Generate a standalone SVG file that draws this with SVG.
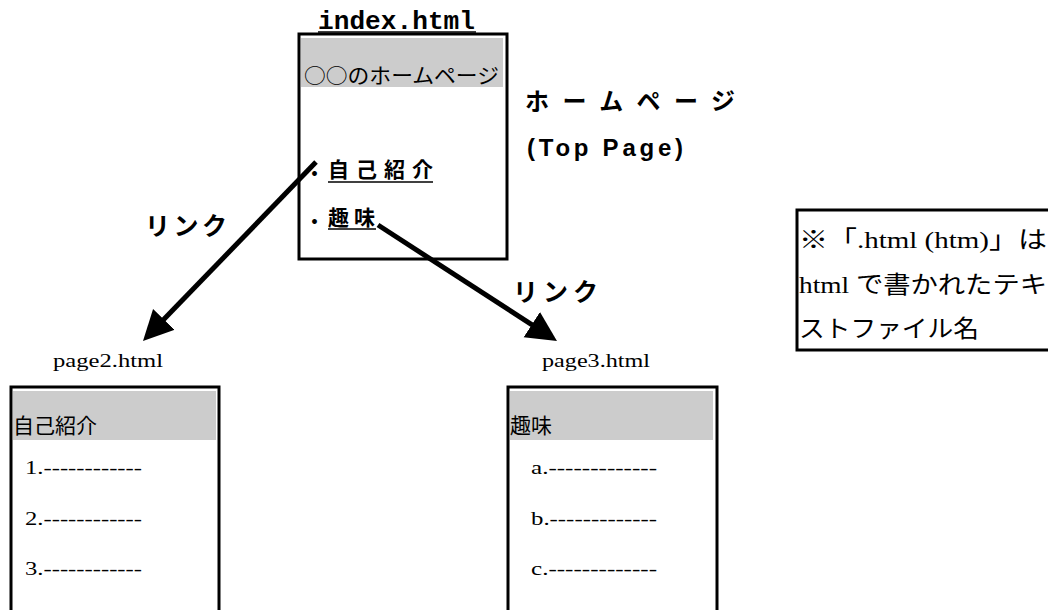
<svg xmlns="http://www.w3.org/2000/svg" width="1048" height="610" viewBox="0 0 1048 610">
<style>
.box{fill:#fff;stroke:#000;stroke-width:3}
.hdr{fill:#cccccc}
.jp{font-family:"Noto Sans CJK JP","Liberation Sans",sans-serif;fill:#000}
.jpb{font-family:"Noto Sans CJK JP","Liberation Sans",sans-serif;font-weight:700;fill:#000}
.serif{font-family:"Liberation Serif","Noto Sans CJK JP",serif;fill:#000}
.mono{font-family:"Liberation Mono",monospace;font-weight:700;fill:#000}
.ul{stroke:#000;stroke-width:1.5}
.conn{stroke:#000;stroke-width:5;fill:none}
</style>
<defs>
<marker id="ah" markerUnits="userSpaceOnUse" markerWidth="32" markerHeight="32" refX="10" refY="15" orient="auto">
<path d="M0,0 L30,15 L0,30 z" fill="#000"/>
</marker>
</defs>

<g id="index">
<text class="mono" x="318" y="29" font-size="26" textLength="157" lengthAdjust="spacingAndGlyphs">index.html</text>
<line class="ul" x1="318" y1="32" x2="476" y2="32"/>
<rect class="box" x="299" y="34" width="208" height="225"/>
<rect class="hdr" x="301" y="38" width="202" height="49"/>
<text class="jp" x="304" y="83" font-size="21" textLength="195" lengthAdjust="spacingAndGlyphs">○○のホームページ</text>
<text class="jpb" x="305" y="181" font-size="19">・</text>
<text class="jp" x="328" y="177" font-size="21" font-weight="600" textLength="105" lengthAdjust="spacing">自己紹介</text>
<line class="ul" x1="328" y1="182" x2="433" y2="182"/>
<text class="jpb" x="305" y="229" font-size="19">・</text>
<text class="jp" x="328" y="225" font-size="21" font-weight="600" textLength="47" lengthAdjust="spacing">趣味</text>
<line class="ul" x1="328" y1="229" x2="376" y2="229"/>
</g>

<g id="toplabel">
<text class="jpb" x="525" y="110" font-size="24" textLength="210" lengthAdjust="spacing">ホームページ</text>
<text class="jpb" x="527" y="156" font-size="24" textLength="156" lengthAdjust="spacing" style="font-family:'Liberation Sans','Noto Sans CJK JP',sans-serif">(Top  Page)</text>
</g>

<g id="note">
<rect class="box" x="797" y="210" width="260" height="140"/>
<text class="serif" x="799" y="248" font-size="24" textLength="248" lengthAdjust="spacingAndGlyphs">※「.html (htm)」は</text>
<text class="serif" x="799" y="293" font-size="24" textLength="248" lengthAdjust="spacingAndGlyphs">html で書かれたテキ</text>
<text class="serif" x="799" y="337" font-size="24" textLength="180" lengthAdjust="spacingAndGlyphs">ストファイル名</text>
</g>

<g id="page2">
<text class="serif" x="53" y="367" font-size="19" textLength="110" lengthAdjust="spacingAndGlyphs">page2.html</text>
<rect class="box" x="11" y="387" width="208" height="230"/>
<rect class="hdr" x="13" y="391" width="203" height="49"/>
<text class="jp" x="13" y="433" font-size="21">自己紹介</text>
<text class="serif" x="25" y="474" font-size="19" textLength="117" lengthAdjust="spacingAndGlyphs">1.------------</text>
<text class="serif" x="25" y="525" font-size="19" textLength="117" lengthAdjust="spacingAndGlyphs">2.------------</text>
<text class="serif" x="25" y="575" font-size="19" textLength="117" lengthAdjust="spacingAndGlyphs">3.------------</text>
</g>

<g id="page3">
<text class="serif" x="542" y="367" font-size="19" textLength="108" lengthAdjust="spacingAndGlyphs">page3.html</text>
<rect class="box" x="508" y="387" width="209" height="230"/>
<rect class="hdr" x="510" y="391" width="203" height="49"/>
<text class="jp" x="510" y="433" font-size="21">趣味</text>
<text class="serif" x="531" y="474" font-size="19" textLength="126" lengthAdjust="spacingAndGlyphs">a.-------------</text>
<text class="serif" x="531" y="525" font-size="19" textLength="126" lengthAdjust="spacingAndGlyphs">b.-------------</text>
<text class="serif" x="531" y="575" font-size="19" textLength="126" lengthAdjust="spacingAndGlyphs">c.-------------</text>
</g>

<g id="connectors">
<line class="conn" x1="316" y1="162" x2="156.9" y2="326.6" marker-end="url(#ah)"/>
<line class="conn" x1="378" y1="225" x2="540.2" y2="330.1" marker-end="url(#ah)"/>
<text class="jpb" x="145" y="235" font-size="25" textLength="82" lengthAdjust="spacing">リンク</text>
<text class="jpb" x="513" y="301" font-size="25" textLength="85" lengthAdjust="spacing">リンク</text>
</g>
</svg>
